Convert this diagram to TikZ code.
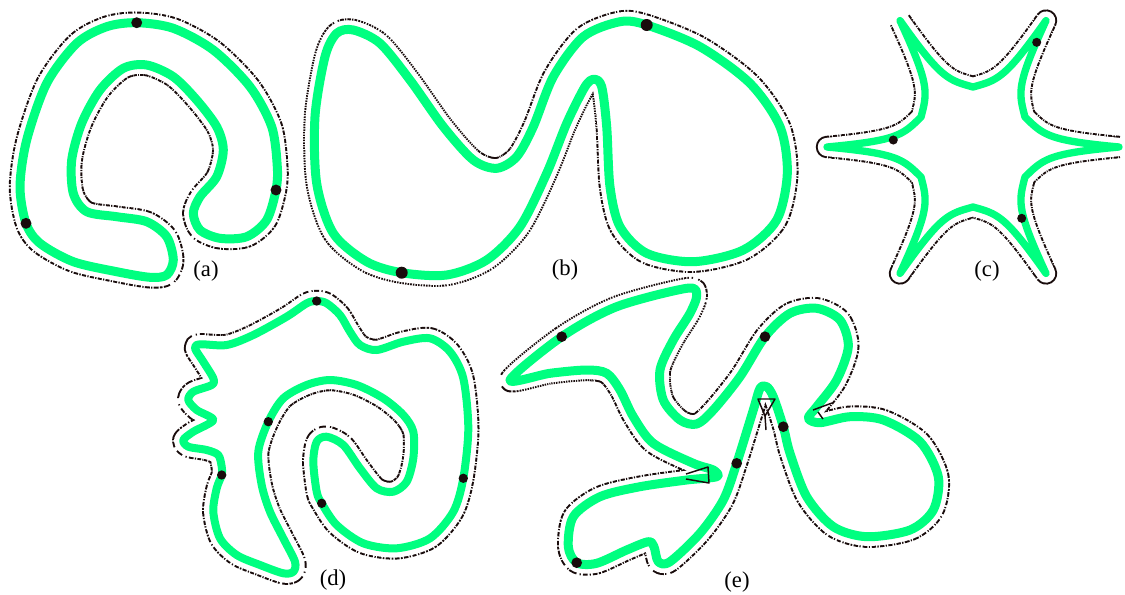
\documentclass[tikz,border=0pt]{standalone}
\usepackage{fontspec}
\setmainfont{Liberation Serif}
\definecolor{sgreen}{RGB}{0,255,128}
\definecolor{ink}{RGB}{25,12,12}
\tikzset{
 ring/.style={draw=ink, line width=16.8pt, line join=round, dash pattern=on 3pt off 1pt on 0.9pt off 1pt},
 dotring/.style={draw=ink, line width=16.8pt, line join=round, dash pattern=on 1.1pt off 0.8pt},
 mask/.style={draw=white, line width=13.8pt, line join=round, fill=white},
 band/.style={draw=sgreen, line width=6.75pt, line join=round},
 dot/.style={fill=ink},
 tick/.style={draw=ink, line width=1.1pt, line join=round},
 lbl/.style={font=\fontsize{17pt}{17pt}\selectfont, inner sep=0pt}
}
\newcommand\shapeA{plot[smooth cycle] coordinates {(136.7,22.7) (173.3,28.3) (213.3,50) (250,86.7) (271.7,126.7) (277.3,166.7) (276,190) (266.7,220) (246.7,236.7) (220,238.3) (200,230) (193.3,213.3) (200,196.7) (216.7,176.7) (223.3,150) (216.7,126.7) (196.7,100) (173.3,76.7) (146.7,65) (123.3,68.3) (100,90) (81.7,123.3) (71.7,160) (73.3,193.3) (86.7,211.7) (116.7,216.7) (146.7,221.7) (166.7,236.7) (173.3,260) (166.7,275) (150,277.3) (116.7,271.7) (73.3,261.7) (40,243.3) (26,223.3) (20,186.7) (26.7,140) (46.7,83.3) (76.7,43.3) (106.7,26.7)}}
\newcommand\shapeB{plot[smooth cycle] coordinates {(353.3,30) (380,43.3) (410,80) (443.3,126.7) (473.3,160) (496.7,168.3) (516.7,156.7) (533.3,126.7) (553.3,76.7) (583.3,36.7) (620,21.7) (646.7,25) (700,46.7) (750,83.3) (780,126.7) (787.3,173.3) (776.7,220) (743.3,250) (693.3,261.7) (646.7,253.3) (620,226.7) (610,186.7) (606.7,126.7) (601.7,86.7) (594,79.3) (585,86.7) (566.7,123.3) (546.7,173.3) (520,226.7) (486.7,260) (446.7,275) (401.7,272.7) (366.7,261.7) (333.3,233.3) (316.7,183.3) (315,116.7) (325,56.7) (336.7,33.3)}}
\newcommand\shapeC{plot[domain=0:360, samples=721, variable=\t] ({973+starr(\t)*cos(\t)}, {147-starr(\t)*sin(\t)}) -- cycle}
\newcommand\shapeD{plot[smooth cycle] coordinates {(316.7,301) (326.7,303.3) (340,315) (350,331.7) (360,345) (376.7,350) (403.3,341.7) (430,338.3) (450,351.7) (463.3,378.3) (468.3,428.3) (463.3,478.3) (453.3,511.7) (430,538.3) (396.7,548.3) (363.3,543.3) (336.7,525) (321.7,503.3) (316.7,491.7) (313.3,461.7) (316.7,441.7) (326.7,436.7) (343.3,445) (360,468.3) (376.7,488.3) (393.3,491.7) (406.7,481.7) (413.3,458.3) (413.3,431.7) (403.3,415) (383.3,398.3) (356.7,385) (330,380) (306.7,385) (283.3,398.3) (268.3,421.7) (258.3,451.7) (261.7,485) (270,511.7) (283.3,538.3) (295,561.7) (293.3,571.7) (283.3,573.3) (260,565) (236.7,555) (220,538.3) (213.3,511.7) (216.7,488.3) (221.7,475) (221.7,466.7) (218.3,455) (206.7,450) (188.3,446.7) (183.3,440) (193.3,431.7) (213.3,420) (196.7,410) (188.3,400) (193.3,391.7) (211.7,385) (213.3,378.3) (203.3,361.7) (195,348.3) (200,344.3) (226.7,345) (253.3,335) (286.7,316.7) (306.7,303.3)}}
\newcommand\shapeE{plot[smooth cycle] coordinates {(510,380) (561.7,336.7) (616.7,306.7) (686.7,288.3) (696.7,295) (690,313.3) (673.3,340) (660,370) (663.3,400) (680,420) (696.7,424) (713.3,410) (740,376.7) (765,336.7) (790,313.3) (816.7,308.3) (840,320) (848.3,346.7) (836.7,380) (816.7,406.7) (808.3,418.3) (820,422.7) (850,416.7) (883.3,420) (920,441.7) (938.3,476.7) (933.3,510) (910,530) (866.7,536.7) (833.3,526.7) (806.7,496.7) (790,453.3) (783.3,426.7) (773.3,396.7) (766.7,386.7) (760,388.3) (753.3,410) (736.7,463.3) (723.3,500) (700,533.3) (670,561.7) (658.3,561.7) (654,546.7) (648.3,541.7) (626.7,550) (596.7,563.3) (576.7,562.7) (568.3,546.7) (573.3,516.7) (600,496.7) (640,486.7) (686.7,480) (716.7,476.7) (713.3,470) (693.3,463.3) (653.3,443.3) (633.3,416.7) (620,390) (606.7,373.3) (586.7,370) (550,373.3)}}
\begin{document}
\begin{tikzpicture}[x=0.75pt,y=-0.75pt,
 declare function={su(\t)=abs(mod(\t+30,60)-30); starr(\t)=60+86*(1/(1+su(\t)/3.5)-0.1045)/0.8955;}]
\useasboundingbox (0,0) rectangle (1125,594);
% (a)
\draw[ring] \shapeA; \path[mask] \shapeA; \draw[band] \shapeA;
\foreach \p in {(136.7,22.7),(276,190),(26,223.3)} \fill[dot] \p circle (4.1pt);
% (b)
\begin{scope}
 \clip (290,0) -- (508,0) -- (508,165) -- (596,82) -- (596,300) -- (290,300) -- cycle;
 \draw[dotring] \shapeB;
\end{scope}
\begin{scope}
 \clip (508,0) -- (508,165) -- (596,82) -- (596,300) -- (820,300) -- (820,0) -- cycle;
 \draw[ring] \shapeB;
\end{scope}
\path[mask] \shapeB; \draw[band] \shapeB;
\foreach \p in {(646.7,25),(401.7,272.7)} \fill[dot] \p circle (4.5pt);
% (c)
\draw[ring] \shapeC; \path[mask] \shapeC; \draw[band, line width=5.5pt] \shapeC;
\foreach \p in {(1036.7,42.3),(893.3,140),(1021.7,218.3)} \fill[dot] \p circle (3.4pt);
% (d)
\draw[ring] \shapeD; \path[mask] \shapeD; \draw[band, line width=6pt] \shapeD;
\foreach \p in {(316.7,301),(268.3,421.7),(221.7,475),(321.7,503.3),(463.3,478.3)} \fill[dot] \p circle (3.5pt);
% (e)
\begin{scope}
 \clip (490,270) -- (720,270) -- (720,330) -- (684,430) -- (660,430) -- (606,378) -- (490,400) -- cycle;
 \draw[dotring] \shapeE;
\end{scope}
\begin{scope}
 \clip (720,270) -- (720,330) -- (684,430) -- (660,430) -- (606,378) -- (490,400) -- (490,594) -- (980,594) -- (980,270) -- cycle;
 \draw[ring] \shapeE;
\end{scope}
\path[mask] \shapeE; \draw[band] \shapeE;
\draw[tick] (758,399) -- (775,399) -- (765,416) -- cycle;
\draw[tick] (765,416) -- (766,430);
\draw[tick] (686,474) -- (708,467) -- (709,483) -- (686,479);
\draw[tick] (813,410) -- (832,403);
\draw[tick] (818,412) -- (823,419);
\foreach \p in {(561.7,336.7),(765,336.7),(783.3,426.7),(736.7,463.3),(576.7,562.7)} \fill[dot] \p circle (4pt);
% labels
\node[lbl] (la) at (206,271) {(a)};
\node[lbl] (lb) at (565,270) {(b)};
\node[lbl] (lc) at (987,271) {(c)};
\node[lbl] (ld) at (333,580) {(d)};
\node[lbl] (le) at (737,582) {(e)};
\end{tikzpicture}
\end{document}
